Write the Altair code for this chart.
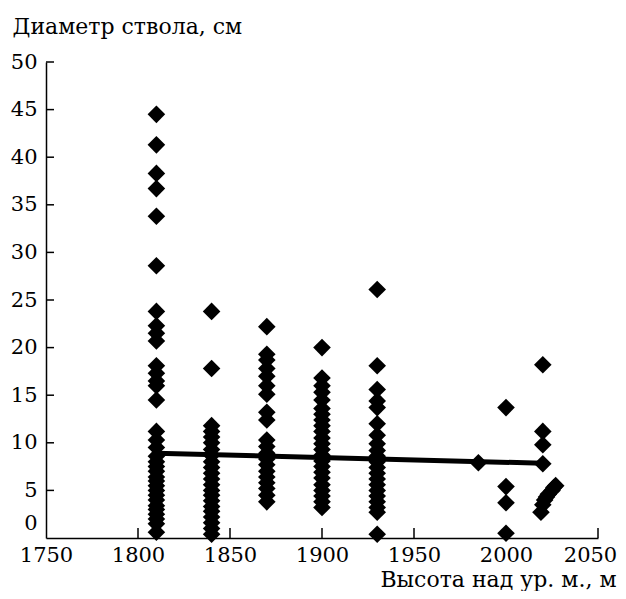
import altair as alt
import pandas as pd

# Tree data: altitude (m) and trunk diameter (cm)
alt_1810 = [44.5, 41.3, 38.3, 36.7, 33.8, 28.6, 23.8, 22.3, 21.5, 20.7, 18.1, 17.3, 16.5, 16.0,
            14.5, 11.2, 10.3, 9.5, 8.6, 8.0, 7.5, 7.0, 6.4, 6.0, 5.5, 5.0, 4.5, 4.0, 3.4, 3.0,
            2.5, 2.0, 1.5, 0.6]
alt_1840 = [23.8, 17.8, 11.8, 11.2, 10.6, 10.0, 9.3, 8.7, 8.0, 7.4, 6.8, 6.2, 5.6, 5.0, 4.5,
            3.9, 3.3, 2.8, 2.2, 1.6, 1.0, 0.4]
alt_1870 = [22.2, 19.3, 18.7, 17.8, 17.0, 16.0, 15.1, 13.2, 12.4, 10.3, 9.6, 8.9, 8.3, 7.7,
            7.0, 6.4, 5.8, 5.2, 4.5, 3.8]
alt_1900 = [20.0, 16.8, 16.0, 15.3, 14.5, 13.6, 13.0, 12.4, 11.8, 11.2, 10.5, 9.9, 9.3, 8.7,
            8.1, 7.5, 6.9, 6.3, 5.6, 5.0, 4.4, 3.8, 3.2]
alt_1930 = [26.1, 18.1, 15.6, 14.4, 13.7, 12.0, 10.8, 9.9, 9.2, 8.6, 8.0, 7.4, 6.8, 6.2, 5.6,
            5.0, 4.4, 3.8, 3.2, 2.7, 0.4]
alt_1985 = [7.9]
alt_2000 = [13.7, 5.4, 3.7, 0.5]
alt_2020 = [18.2, 11.2, 9.8, 7.8]
extra_x = [2019, 2020, 2021, 2022, 2023, 2025, 2026, 2027]
extra_y = [2.7, 3.5, 4.0, 4.3, 4.6, 5.0, 5.3, 5.5]

trend_x = [1810, 2020]
trend_y = [8.9, 7.85]

x_ticks = [1800, 1850, 1900, 1950, 2000, 2050]
x_labels = [1750, 1800, 1850, 1900, 1950, 2000, 2050]
y_ticks = [5, 10, 15, 20, 25, 30, 35, 40, 45, 50]
y_labels = [0, 5, 10, 15, 20, 25, 30, 35, 40, 45, 50]

rows = []
for h, vals in [(1810, alt_1810), (1840, alt_1840), (1870, alt_1870), (1900, alt_1900),
                (1930, alt_1930), (1985, alt_1985), (2000, alt_2000), (2020, alt_2020)]:
    rows += [{"h": h, "d": v} for v in vals]
rows += [{"h": a, "d": b} for a, b in zip(extra_x, extra_y)]
pts = pd.DataFrame(rows)
trend = pd.DataFrame({"h": trend_x, "d": trend_y})
xt = pd.DataFrame({"h": x_ticks})
yt = pd.DataFrame({"d": y_ticks})

FONT = "DejaVu Serif"
W, H = 552, 476

xscale = alt.Scale(domain=[1750, 2050], nice=False, zero=False)
yscale = alt.Scale(domain=[0, 50], nice=False, zero=False)

xaxis = alt.Axis(values=x_labels, format="d", ticks=False, tickSize=0, grid=False,
                 domainColor="black", domainWidth=1.5, labelFont=FONT, labelFontSize=21,
                 labelColor="black", labelPadding=6, labelFlush=False,
                 labelOffset={"condition": {"test": "datum.value == 2050", "value": -8}, "value": 0},
                 title="Высота над ур. м., м", titleFont=FONT, titleFontSize=22,
                 titleFontWeight="normal", titleColor="black", titleAlign="right",
                 titleAnchor="end", titleBaseline="alphabetic", titleX=570, titleY=48)
yaxis = alt.Axis(values=y_labels, format="d", ticks=False, tickSize=0, grid=False,
                 domainColor="black", domainWidth=1.5, labelFont=FONT, labelFontSize=21,
                 labelColor="black", labelPadding=9, labelFlush=False,
                 labelOffset={"condition": {"test": "datum.value == 0", "value": -15}, "value": 0},
                 title="Диаметр ствола, см", titleFont=FONT, titleFontSize=22,
                 titleFontWeight="normal", titleColor="black", titleAngle=0,
                 titleAlign="left", titleBaseline="alphabetic", titleX=-34, titleY=-29)

points = alt.Chart(pts).mark_point(shape="diamond", filled=True, color="black",
                                   size=310, opacity=1).encode(
    x=alt.X("h:Q", scale=xscale, axis=xaxis),
    y=alt.Y("d:Q", scale=yscale, axis=yaxis),
)

line = alt.Chart(trend).mark_line(color="black", strokeWidth=5).encode(
    x=alt.X("h:Q", scale=xscale),
    y=alt.Y("d:Q", scale=yscale),
)

xtick_rules = alt.Chart(xt).mark_rule(color="black", strokeWidth=1.5).encode(
    x=alt.X("h:Q", scale=xscale),
    y=alt.value(H),
    y2=alt.value(H - 10),
)

ytick_rules = alt.Chart(yt).mark_rule(color="black", strokeWidth=1.5).encode(
    y=alt.Y("d:Q", scale=yscale),
    x=alt.value(0),
    x2=alt.value(8),
)

chart = alt.layer(line, points, xtick_rules, ytick_rules).properties(
    width=W, height=H,
    autosize=alt.AutoSizeParams(type="none"),
    padding={"left": 38, "top": 54, "right": 20, "bottom": 53},
).configure(
    font=FONT, background="white"
).configure_view(stroke=None).configure_axis(labelFont=FONT, titleFont=FONT)

chart.save("out.html", embed_options={"renderer": "svg", "actions": False})
